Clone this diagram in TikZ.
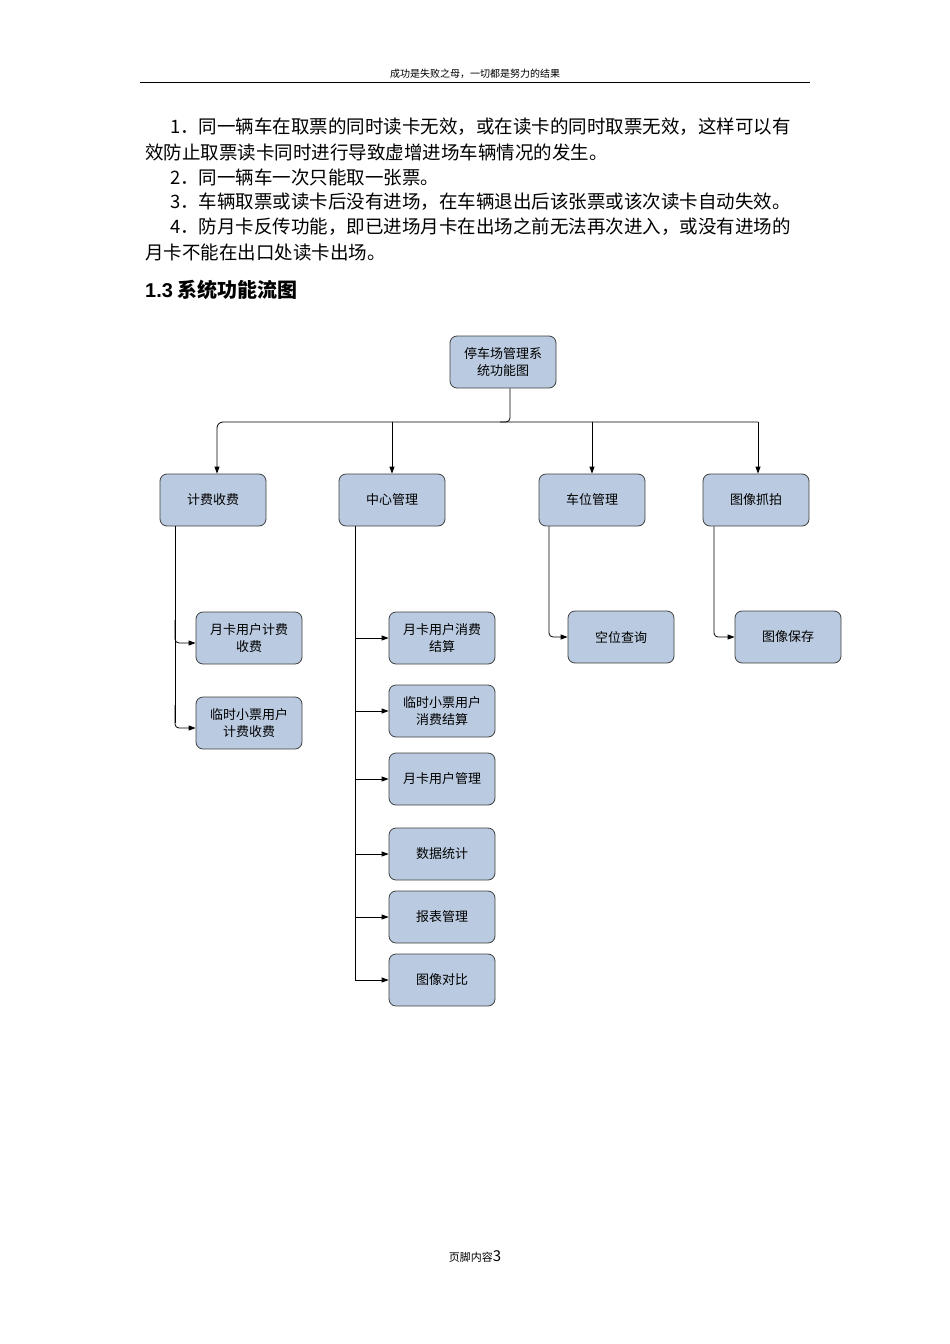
\documentclass[tikz,border=0pt]{standalone}
\usepackage{fontspec}
\setmainfont{Noto Sans CJK SC}
\newfontfamily\hd{Liberation Sans}
\usetikzlibrary{arrows.meta}
\definecolor{boxfill}{RGB}{186,202,224}
\begin{document}
\begin{tikzpicture}[x=1pt,y=-1pt,
  box/.style={draw=black!75,fill=boxfill,rounded corners=7pt,minimum width=106pt,minimum height=52pt,align=center,font=\fontsize{13}{17}\selectfont,line width=0.8pt},
  arr/.style={-{Triangle[length=7pt,width=5pt]},line width=0.8pt},
  ln/.style={line width=0.8pt},
  bt/.style={anchor=west,font=\fontsize{18.5}{20}\selectfont,inner sep=0pt}]
\useasboundingbox (0,0) rectangle (950,1344);
\fill[white] (0,0) rectangle (950,1344);
\node[font=\fontsize{10}{12}\selectfont] (hdr) at (475,74) {成功是失败之母，一切都是努力的结果};
\draw[line width=0.8pt] (140,82) -- (810,82);
\node[bt] (l1) at (170,127) {1．同一辆车在取票的同时读卡无效，或在读卡的同时取票无效，这样可以有};
\node[bt] (l2) at (145,152) {效防止取票读卡同时进行导致虚增进场车辆情况的发生。};
\node[bt] (l3) at (170,177) {2．同一辆车一次只能取一张票。};
\node[bt] (l4) at (170,202) {3．车辆取票或读卡后没有进场，在车辆退出后该张票或该次读卡自动失效。};
\node[bt] (l5) at (170,227) {4．防月卡反传功能，即已进场月卡在出场之前无法再次进入，或没有进场的};
\node[bt] (l6) at (145,252) {月卡不能在出口处读卡出场。};
\node[anchor=west,inner sep=0pt,font=\fontsize{20}{22}\selectfont\bfseries] (h) at (145,290) {{\hd\bfseries 1.3} 系统功能流图};
\node[box] (top) at (503,362) {停车场管理系\\统功能图};
\node[box] (a) at (213,500) {计费收费};
\node[box] (b) at (392,500) {中心管理};
\node[box] (c) at (592,500) {车位管理};
\node[box] (d) at (756,500) {图像抓拍};
\node[box] (a1) at (249,638) {月卡用户计费\\收费};
\node[box] (a2) at (249,723) {临时小票用户\\计费收费};
\node[box] (b1) at (442,638) {月卡用户消费\\结算};
\node[box] (b2) at (442,711) {临时小票用户\\消费结算};
\node[box] (b3) at (442,779) {月卡用户管理};
\node[box] (b4) at (442,854) {数据统计};
\node[box] (b5) at (442,917) {报表管理};
\node[box] (b6) at (442,980) {图像对比};
\node[box] (c1) at (621,637) {空位查询};
\node[box] (d1) at (788,637) {图像保存};
\coordinate (bus) at (503,422);
\draw[ln,rounded corners=4pt] (top.south -| 510,0) -- (510,422) -- (500,422);
\draw[arr,rounded corners=6pt] (758,422) -- (217,422) -- (a.north -| 217,0);
\draw[arr] (392,422) -- (b.north);
\draw[arr] (592,422) -- (c.north);
\draw[arr] (758,422) -- (d.north -| 758,0);
\draw[ln] (a.south -| 175,0) -- (175,723);
\draw[arr,rounded corners=4pt] (175,620) -- (175,643) -- (a1.west |- 0,643);
\draw[arr,rounded corners=4pt] (175,705) -- (175,728) -- (a2.west |- 0,728);
\draw[ln] (b.south -| 355,0) -- (355,980);
\foreach \n/\yy in {b1/638,b2/711,b3/779,b4/854,b5/917,b6/980}
  \draw[arr] (355,\yy) -- (\n.west |- 0,\yy);
\draw[arr,rounded corners=4pt] (c.south -| 549,0) -- (549,637) -- (c1.west);
\draw[arr,rounded corners=4pt] (d.south -| 714,0) -- (714,637) -- (d1.west);
\node[font=\fontsize{11}{13}\selectfont] (ft) at (475,1256) {页脚内容{\fontsize{15}{15}\selectfont 3}};
\end{tikzpicture}
\end{document}
